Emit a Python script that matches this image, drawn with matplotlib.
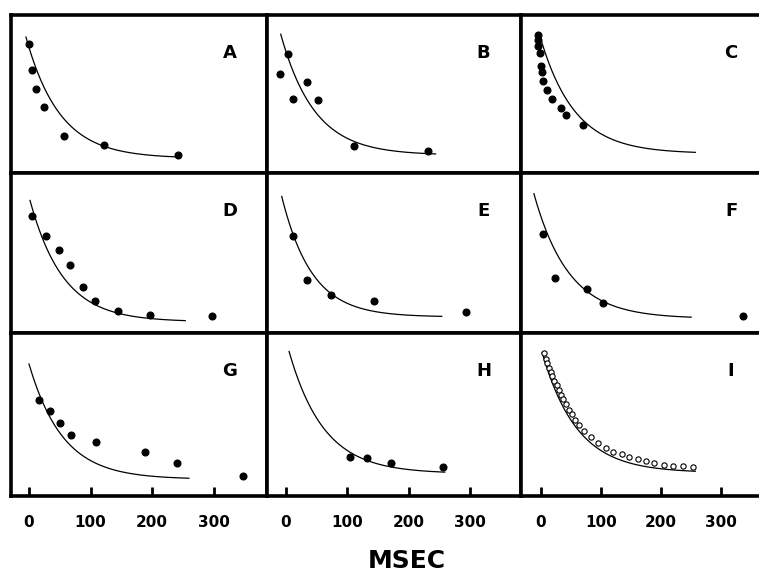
import numpy as np
import matplotlib
matplotlib.use("Agg")
import matplotlib.pyplot as plt

a_ms = [0.5, 5, 11, 25, 57, 122, 242]
a_val = [81.5, 65.2, 53.2, 41.3, 23.4, 17.5, 11.2]

b_ms = [-9, 3, 11, 34, 53, 111, 232]
b_val = [62.7, 75.3, 46.6, 57.6, 46.0, 16.6, 13.5]

c_ms = [-4.5, -5.5, -4.5, -1.7, 0, 2, 4, 10.5, 19, 33, 41, 69.5]
c_val = [87.3, 84.2, 80.4, 75.8, 67.7, 64.1, 57.8, 52.5, 46.8, 40.9, 36.3, 30.4]

d_ms = [5, 27, 48, 67, 88, 107, 145, 197, 297]
d_val = [73.2, 60.4, 51.6, 42.1, 28.5, 20.1, 13.4, 11.3, 10.3]

e_ms = [11, 34, 73, 143, 294]
e_val = [60.6, 33.3, 23.7, 19.9, 13.0]

f_ms = [4, 24, 77, 104, 337]
f_val = [61.4, 34.4, 27.5, 18.4, 10.3]

g_ms = [17, 34, 50, 69, 109, 189, 240, 348]
g_val = [59.0, 52.0, 44.7, 37.2, 32.7, 26.6, 19.7, 11.8]

h_ms = [105, 132, 171, 256]
h_val = [23.6, 23.2, 20.3, 17.7]

i_ms = [5.6, 7.8, 10.6, 13.9, 16.1, 18.9, 22.2, 26.1, 30, 33.3, 37.2, 41.7,
        46.1, 51.1, 56.7, 63.3, 72.2, 83.3, 95.6, 108.3, 120.6, 134.4, 147.2,
        161.1, 175, 188.9, 205, 220.6, 237.2, 252.8]
i_val = [87.4, 84.3, 81.5, 78.5, 76.0, 73.4, 70.7, 68.1, 65.0, 62.0, 59.3, 56.1,
         52.8, 50.0, 46.7, 43.3, 39.6, 36.2, 32.1, 29.1, 27.0, 25.4, 24.0,
         22.4, 21.3, 19.9, 18.9, 18.3, 17.9, 17.3]

# fitted exponential decay per panel: start, end, plateau, amplitude, tau (msec)
fit_start = [-5, -8.6, -3, 1.6, -7, -11.7, 0, 5, 2]
fit_end = [240, 244, 257, 254, 254, 250, 260, 259, 257]
fit_plateau = [9, 11, 12, 7, 10, 9, 10, 13.5, 14]
fit_amp = [77, 76.8, 76.4, 75.6, 75.1, 77.8, 70.9, 75.1, 74]
fit_tau = [55, 55, 57, 54, 49, 58, 55, 57, 58]

labels = ["A", "B", "C", "D", "E", "F", "G", "H", "I"]
point_x = [a_ms, b_ms, c_ms, d_ms, e_ms, f_ms, g_ms, h_ms, i_ms]
point_y = [a_val, b_val, c_val, d_val, e_val, f_val, g_val, h_val, i_val]
tick_vals = [0, 100, 200, 300]

W, H = 759, 575
fig = plt.figure(figsize=(W / 100, H / 100), dpi=100)
fig.patch.set_facecolor("white")

col_edges = [(11, 267), (267, 520.5), (520.5, 774)]
col_xlim = [(-29.3, 387), (-31, 382.5), (-34, 388)]
row_edges = [(15, 172.5), (172.5, 333), (333, 495.5)]

for k in range(9):
    r, c = divmod(k, 3)
    x0, x1 = col_edges[c]
    top, bot = row_edges[r]
    ax = fig.add_axes([x0 / W, (H - bot) / H, (x1 - x0) / W, (bot - top) / H])
    ax.set_xlim(*col_xlim[c])
    ax.set_ylim(0, 100)
    for s in ax.spines.values():
        s.set_linewidth(2.6)
        s.set_color("black")
    ax.set_yticks([])

    xs = np.linspace(fit_start[k], fit_end[k], 200)
    ys = fit_plateau[k] + fit_amp[k] * np.exp(-(xs - fit_start[k]) / fit_tau[k])
    ax.plot(xs, ys, color="black", lw=0.9, zorder=2)

    if labels[k] == "I":
        ax.plot(point_x[k], point_y[k], "o", ms=3.8, mfc="white", mec="black",
                mew=0.8, zorder=3)
    else:
        ax.plot(point_x[k], point_y[k], "o", ms=4.8, color="black", zorder=3)

    dx = -29 if c == 2 else -37
    ax.annotate(labels[k], xy=(1, 1) if c < 2 else ((760 - x0) / (x1 - x0), 1),
                xycoords="axes fraction", xytext=(dx, -38),
                textcoords="offset pixels", ha="center", va="center",
                fontsize=13, fontweight="bold", family="DejaVu Sans")

    if r == 2:
        ax.set_xticks(tick_vals)
        ax.set_xticklabels([str(t) for t in tick_vals], fontsize=11,
                           fontweight="bold", family="DejaVu Sans")
        ax.tick_params(axis="x", direction="in", length=6.5, width=2.0, pad=14)
    else:
        ax.set_xticks([])

fig.text(407 / W, (H - 561) / H, "MSEC", ha="center", va="center",
         fontsize=18, fontweight="bold", family="DejaVu Sans")

fig.savefig("out.png", dpi=100)
